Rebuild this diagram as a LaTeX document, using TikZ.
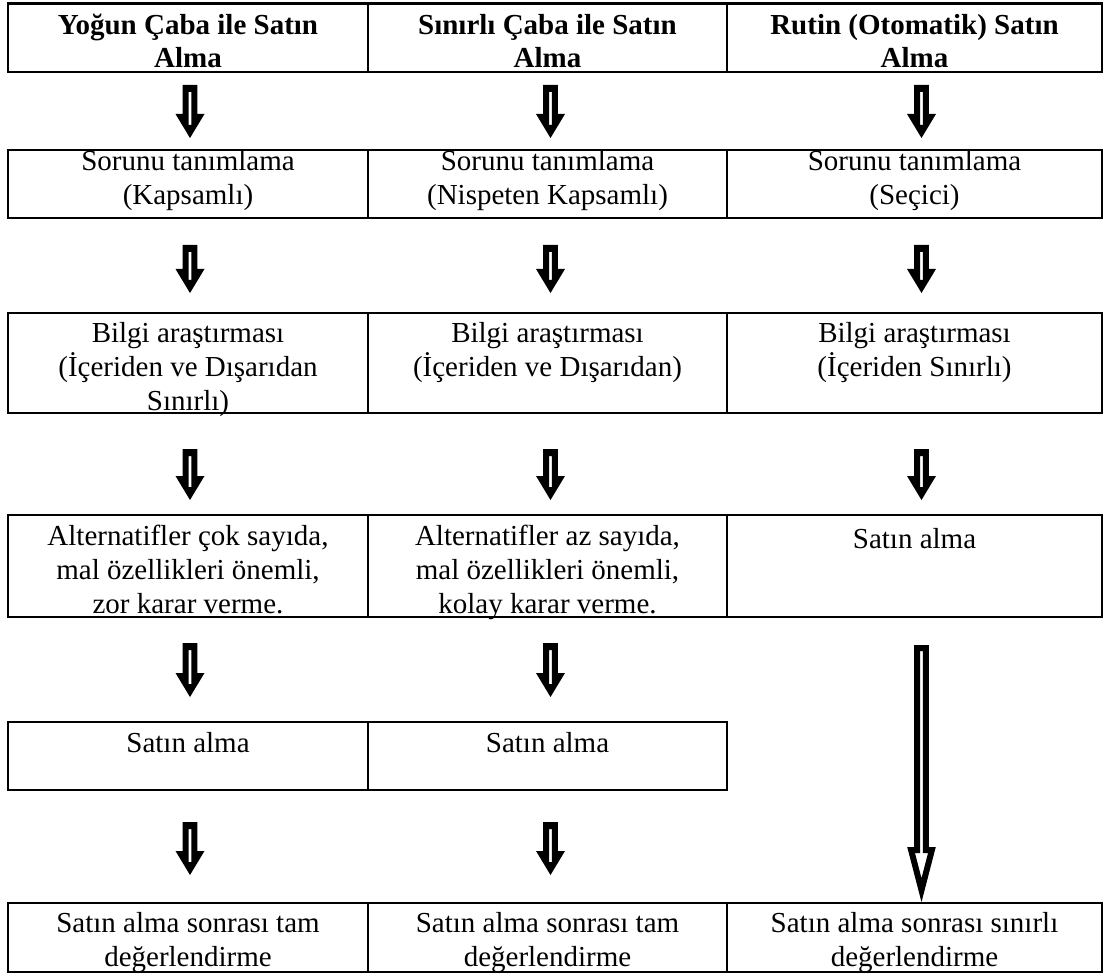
\documentclass[tikz,border=0pt]{standalone}
\usepackage{fontspec}
\setmainfont{Liberation Serif}
\usetikzlibrary{positioning,calc}

\tikzset{
  cell/.style={draw, line width=1.2pt, anchor=north west, inner sep=0pt, outer sep=0pt},
  col1/.style={cell, minimum width=180pt},
  col2/.style={cell, minimum width=179.5pt},
  col3/.style={cell, minimum width=187.5pt},
  txt/.style={align=center, inner sep=0pt, font=\fontsize{14.5pt}{17pt}\selectfont,
    execute at begin node=\strut},
  head/.style={txt, font=\fontsize{14.5pt}{16.5pt}\selectfont\bfseries},
  down/.style={fill=black, even odd rule,
    to path={let \p1=(\tikztostart), \p2=(\tikztotarget) in
      (\x1-3.7pt,\y1) -- (\x1+3.7pt,\y1) -- (\x1+3.7pt,\y2+12pt)
      -- (\x1+7.25pt,\y2+12pt) -- (\x1,\y2) -- (\x1-7.25pt,\y2+12pt)
      -- (\x1-3.7pt,\y2+12pt) -- cycle
      (\x1-0.7pt,\y1-3.5pt) rectangle (\x1+0.7pt,\y2+6.5pt)}},
  longdown/.style={line width=3pt, line join=miter, fill=white,
    to path={let \p1=(\tikztostart), \p2=(\tikztotarget) in
      (\x1-2.2pt,\y1-1.5pt) -- (\x1+2.2pt,\y1-1.5pt) -- (\x1+2.2pt,\y2+26pt)
      -- (\x1+5.2pt,\y2+26pt) -- (\x1,\y2+5.9pt) -- (\x1-5.2pt,\y2+26pt)
      -- (\x1-2.2pt,\y2+26pt) -- cycle}}
}

\begin{document}
\begin{tikzpicture}[x=0.5pt, y=-0.5pt]
\useasboundingbox (0,0) rectangle (1105,974);

% kutular
\node[col1, minimum height=34.25pt] (h1) at (8,3.5) {};
\node[col2, minimum height=34.25pt] (h2) at (368,3.5) {};
\node[col3, minimum height=34.25pt] (h3) at (727,3.5) {};
\node[col1, minimum height=34pt] (t1) at (8,150) {};
\node[col2, minimum height=34pt] (t2) at (368,150) {};
\node[col3, minimum height=34pt] (t3) at (727,150) {};
\node[col1, minimum height=50pt] (b1) at (8,313) {};
\node[col2, minimum height=50pt] (b2) at (368,313) {};
\node[col3, minimum height=50pt] (b3) at (727,313) {};
\node[col1, minimum height=51pt] (a1) at (8,515) {};
\node[col2, minimum height=51pt] (a2) at (368,515) {};
\node[col3, minimum height=51pt] (a3) at (727,515) {};
\node[col1, minimum height=34pt] (s1) at (8,722) {};
\node[col2, minimum height=34pt] (s2) at (368,722) {};
\node[col1, minimum height=34.5pt] (d1) at (8,903) {};
\node[col2, minimum height=34.5pt] (d2) at (368,903) {};
\node[col3, minimum height=34.5pt] (d3) at (727,903) {};

% metinler
\node[head, below=5pt of h1.north] (h1t) {Yoğun Çaba ile Satın\\Alma};
\node[head, below=5pt of h2.north] (h2t) {Sınırlı Çaba ile Satın\\Alma};
\node[head, below=5pt of h3.north] (h3t) {Rutin (Otomatik) Satın\\Alma};
\node[txt, below=0.2pt of t1.north] (t1t) {Sorunu tanımlama\\(Kapsamlı)};
\node[txt, below=0.2pt of t2.north] (t2t) {Sorunu tanımlama\\(Nispeten Kapsamlı)};
\node[txt, below=0.2pt of t3.north] (t3t) {Sorunu tanımlama\\(Seçici)};
\node[txt, below=4.6pt of b1.north] (b1t) {Bilgi araştırması\\(İçeriden ve Dışarıdan\\Sınırlı)};
\node[txt, below=4.6pt of b2.north] (b2t) {Bilgi araştırması\\(İçeriden ve Dışarıdan)};
\node[txt, below=4.6pt of b3.north] (b3t) {Bilgi araştırması\\(İçeriden Sınırlı)};
\node[txt, below=4.6pt of a1.north] (a1t) {Alternatifler çok sayıda,\\mal özellikleri önemli,\\zor karar verme.};
\node[txt, below=4.6pt of a2.north] (a2t) {Alternatifler az sayıda,\\mal özellikleri önemli,\\kolay karar verme.};
\node[txt, below=4.6pt of a3.north] (a3t) {Satın alma};
\node[txt, below=3.1pt of s1.north] (s1t) {Satın alma};
\node[txt, below=3.1pt of s2.north] (s2t) {Satın alma};
\node[txt, below=4.6pt of d1.north] (d1t) {Satın alma sonrası tam\\değerlendirme};
\node[txt, below=4.6pt of d2.north] (d2t) {Satın alma sonrası tam\\değerlendirme};
\node[txt, below=4.6pt of d3.north] (d3t) {Satın alma sonrası sınırlı\\değerlendirme};

% oklar
\fill[down] ([xshift=1pt,yshift=-6.5pt]h1.south) to ([xshift=1pt,yshift=6pt]t1.north);
\fill[down] ([xshift=1.5pt,yshift=-6.5pt]h2.south) to ([xshift=1.5pt,yshift=6pt]t2.north);
\fill[down] ([xshift=3.5pt,yshift=-6.5pt]h3.south) to ([xshift=3.5pt,yshift=6pt]t3.north);
\fill[down] ([xshift=1pt,yshift=-13.5pt]t1.south) to ([xshift=1pt,yshift=10pt]b1.north);
\fill[down] ([xshift=1.5pt,yshift=-13.5pt]t2.south) to ([xshift=1.5pt,yshift=10pt]b2.north);
\fill[down] ([xshift=3.5pt,yshift=-13.5pt]t3.south) to ([xshift=3.5pt,yshift=10pt]b3.north);
\fill[down] ([xshift=1pt,yshift=-18pt]b1.south) to ([xshift=1pt,yshift=7.5pt]a1.north);
\fill[down] ([xshift=1.5pt,yshift=-18pt]b2.south) to ([xshift=1.5pt,yshift=7.5pt]a2.north);
\fill[down] ([xshift=3.5pt,yshift=-18pt]b3.south) to ([xshift=3.5pt,yshift=7.5pt]a3.north);
\fill[down] ([xshift=1pt,yshift=-13pt]a1.south) to ([xshift=1pt,yshift=12.5pt]s1.north);
\fill[down] ([xshift=1.5pt,yshift=-13pt]a2.south) to ([xshift=1.5pt,yshift=12.5pt]s2.north);
\fill[down] ([xshift=1pt,yshift=-16pt]s1.south) to ([xshift=1pt,yshift=14pt]d1.north);
\fill[down] ([xshift=1.5pt,yshift=-16pt]s2.south) to ([xshift=1.5pt,yshift=14pt]d2.north);
\draw[longdown] ([xshift=3.5pt,yshift=-14pt]a3.south) to ([xshift=3.5pt,yshift=0.5pt]d3.north);
\end{tikzpicture}
\end{document}
